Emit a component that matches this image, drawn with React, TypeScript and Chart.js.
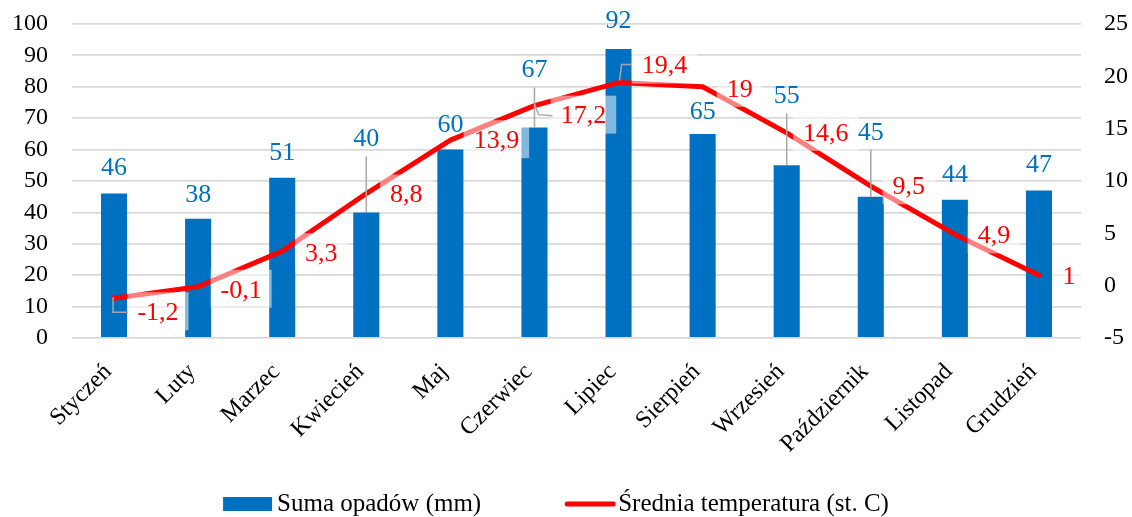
import { useEffect, useRef } from 'react';
import { Chart, registerables } from 'chart.js';

Chart.register(...registerables);

const months = ['Styczeń', 'Luty', 'Marzec', 'Kwiecień', 'Maj', 'Czerwiec', 'Lipiec', 'Sierpień', 'Wrzesień', 'Październik', 'Listopad', 'Grudzień'];
const precipitation = [46, 38, 51, 40, 60, 67, 92, 65, 55, 45, 44, 47];
const temperature = [-1.2, -0.1, 3.3, 8.8, 13.9, 17.2, 19.4, 19, 14.6, 9.5, 4.9, 1];
const precipAxis = [0, 100, 10];
const tempAxis = [-5, 25, 5];
const seriesNames = ['Suma opadów (mm)', 'Średnia temperatura (st. C)'];

// label placement (pixels, relative to the mark)
const barLabelRise = [26, 25, 26, 74, 25, 58, 29, 23, 70, 65, 26, 26];
const tempLabelOffset = [[44, 15], [43, 4], [39, 3], [40, 2], [46, 1], [49, 11], [46, -16], [37, 3], [39, 1], [38, 1], [39, 2], [30, 2]];
const tempLeaders: Record<number, number[][]> = {
  0: [[-1, -1], [-1, 14], [14, 14]],
  5: [[0, -2], [4, 9], [18, 10]],
  6: [[1, -2], [3, -18], [13, -18]],
};

const FONT = "'Liberation Serif', 'Times New Roman', serif";
const BLUE = '#0070C0';
const RED = '#FF0000';
const LEADER = '#A6A6A6';

const fmt = (v: number) => String(v).replace('.', ',');

const labelPlugin = {
  id: 'customLabels',
  afterDatasetsDraw(chart: any) {
    const ctx = chart.ctx;
    const barMeta = chart.getDatasetMeta(0);
    const lineMeta = chart.getDatasetMeta(1);
    ctx.save();
    ctx.font = `26px ${FONT}`;
    ctx.textAlign = 'center';
    ctx.textBaseline = 'middle';
    // bar labels
    barMeta.data.forEach((bar: any, i: number) => {
      const rise = barLabelRise[i];
      const cy = bar.y - rise;
      if (rise > 40) {
        ctx.strokeStyle = LEADER;
        ctx.lineWidth = 1.5;
        ctx.beginPath();
        ctx.moveTo(bar.x, cy + 18);
        ctx.lineTo(bar.x, bar.y);
        ctx.stroke();
      }
      ctx.fillStyle = BLUE;
      ctx.fillText(fmt(precipitation[i]), bar.x, cy + 1);
    });
    // temperature labels: boxes
    lineMeta.data.forEach((pt: any, i: number) => {
      const [dx, dy] = tempLabelOffset[i];
      const txt = fmt(temperature[i]);
      const w = ctx.measureText(txt).width;
      const cx = pt.x + dx;
      const cy = pt.y + dy;
      ctx.fillStyle = 'rgba(255,255,255,0.5)';
      ctx.fillRect(cx - w / 2 - 10, cy - 21, w + 20, 38);
    });
    // leaders
    Object.keys(tempLeaders).forEach((k) => {
      const i = Number(k);
      const pt = lineMeta.data[i];
      const path = tempLeaders[i];
      ctx.strokeStyle = LEADER;
      ctx.lineWidth = 1.5;
      ctx.beginPath();
      path.forEach(([px, py], j) => {
        if (j === 0) ctx.moveTo(pt.x + px, pt.y + py);
        else ctx.lineTo(pt.x + px, pt.y + py);
      });
      ctx.stroke();
    });
    // text
    lineMeta.data.forEach((pt: any, i: number) => {
      const [dx, dy] = tempLabelOffset[i];
      ctx.fillStyle = RED;
      ctx.fillText(fmt(temperature[i]), pt.x + dx, pt.y + dy);
    });
    ctx.restore();
  },
};

const legendPlugin = {
  id: 'customLegend',
  afterDraw(chart: any) {
    const ctx = chart.ctx;
    ctx.save();
    ctx.font = `25px ${FONT}`;
    ctx.textBaseline = 'middle';
    ctx.textAlign = 'left';
    const w1 = ctx.measureText(seriesNames[0]).width;
    const w2 = ctx.measureText(seriesNames[1]).width;
    const total = 49 + 5 + w1 + 84 + 50 + 3 + w2;
    let x = 556 - total / 2;
    const y = 504;
    ctx.fillStyle = BLUE;
    ctx.fillRect(x, y - 7, 49, 14);
    x += 54;
    ctx.fillStyle = '#000';
    ctx.fillText(seriesNames[0], x, y);
    x += w1 + 84;
    ctx.strokeStyle = RED;
    ctx.lineWidth = 5;
    ctx.lineCap = 'round';
    ctx.beginPath();
    ctx.moveTo(x + 2, y);
    ctx.lineTo(x + 48, y);
    ctx.stroke();
    x += 53;
    ctx.fillStyle = '#000';
    ctx.fillText(seriesNames[1], x, y);
    ctx.restore();
  },
};

export default function App() {
  const ref = useRef<HTMLCanvasElement>(null);
  useEffect(() => {
    if (!ref.current) return;
    const chart = new Chart(ref.current, {
      type: 'bar',
      data: {
        labels: months,
        datasets: [
          {
            type: 'bar',
            label: seriesNames[0],
            data: precipitation,
            backgroundColor: BLUE,
            yAxisID: 'y',
            order: 2,
            barPercentage: 0.31,
            categoryPercentage: 1,
          },
          {
            type: 'line',
            label: seriesNames[1],
            data: temperature,
            borderColor: RED,
            backgroundColor: RED,
            borderWidth: 5,
            pointRadius: 0,
            tension: 0,
            yAxisID: 'y1',
            order: 1,
            borderCapStyle: 'round',
            borderJoinStyle: 'round',
          } as any,
        ],
      },
      options: {
        responsive: false,
        animation: false,
        layout: { padding: { top: 24, bottom: 50, left: 0, right: 0 } },
        plugins: {
          legend: { display: false },
          tooltip: { enabled: false },
        },
        scales: {
          x: {
            grid: { display: false },
            border: { display: false },
            ticks: {
              font: { family: FONT, size: 24 },
              color: '#000',
              maxRotation: 45,
              minRotation: 45,
              padding: 12,
              labelOffset: -6,
              autoSkip: false,
            },
            afterFit: (s: any) => { s.height = 129; },
          },
          y: {
            position: 'left',
            min: precipAxis[0],
            max: precipAxis[1],
            ticks: { stepSize: precipAxis[2], autoSkip: false, font: { family: FONT, size: 24 }, color: '#000', padding: 24 },
            grid: { color: '#D9D9D9', lineWidth: 1.8, drawTicks: false },
            border: { display: false },
            afterFit: (s: any) => { s.width = 72; s.paddingTop = 0; s.paddingBottom = 0; },
          },
          y1: {
            position: 'right',
            min: tempAxis[0],
            max: tempAxis[1],
            ticks: { stepSize: tempAxis[2], autoSkip: false, font: { family: FONT, size: 24 }, color: '#000', padding: 23 },
            grid: { drawOnChartArea: false, drawTicks: false },
            border: { display: false },
            afterFit: (s: any) => { s.width = 51; s.paddingTop = 0; s.paddingBottom = 0; },
          },
        },
      },
      plugins: [labelPlugin, legendPlugin],
    });
    return () => chart.destroy();
  }, []);
  return (
    <div style={{ position: 'absolute', left: 0, top: 0, width: 1132, height: 517 }}>
      <canvas ref={ref} width={1132} height={517} />
    </div>
  );
}
